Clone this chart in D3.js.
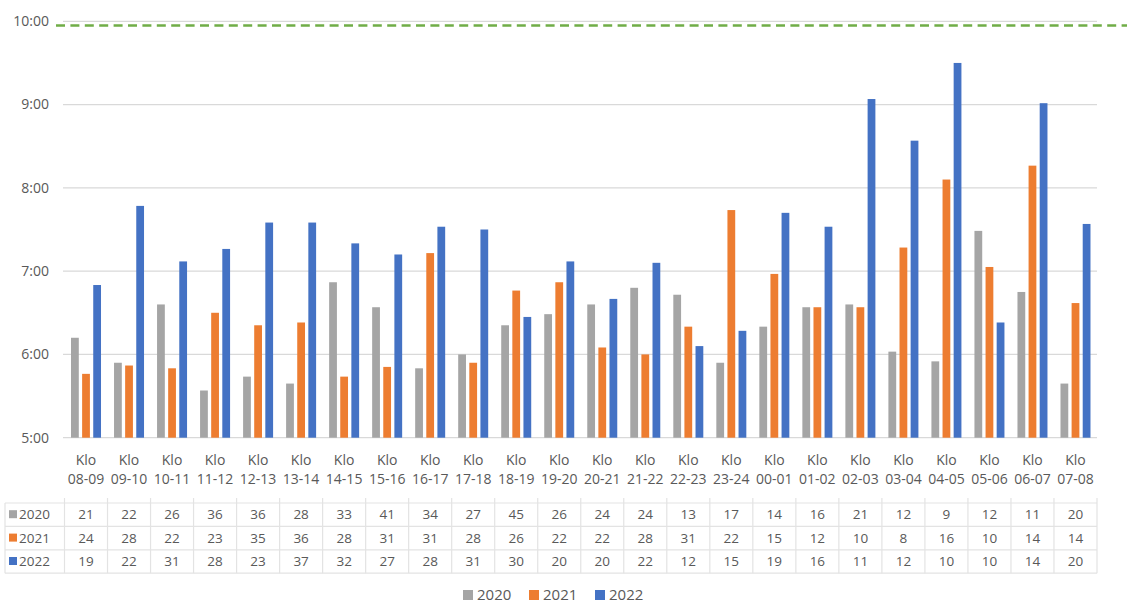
<!DOCTYPE html>
<html>
<head>
<meta charset="utf-8">
<script src="https://cdn.jsdelivr.net/npm/d3@7"></script>
<style>
	body { margin: 0; background: #fff; }
	text { font-family: "Segoe UI", "Open Sans", "Noto Sans", sans-serif; fill: #595959; }
</style>
</head>
<body>
<div id="chart"></div>
<script>
let categories	= ["08-09", "09-10", "10-11", "11-12", "12-13", "13-14", "14-15", "15-16", "16-17", "17-18", "18-19", "19-20",
	"20-21", "21-22", "22-23", "23-24", "00-01", "01-02", "02-03", "03-04", "04-05", "05-06", "06-07", "07-08"];
let years		= ["2020", "2021", "2022"];
let colors		= ["#a5a5a5", "#ed7d31", "#4472c4"];

// average time per hour slot (h:mm)
let times2020	= ["6:12", "5:54", "6:36", "5:34", "5:44", "5:39", "6:52", "6:34", "5:50", "6:00", "6:21", "6:29",
	"6:36", "6:48", "6:43", "5:54", "6:20", "6:34", "6:36", "6:02", "5:55", "7:29", "6:45", "5:39"];
let times2021	= ["5:46", "5:52", "5:50", "6:30", "6:21", "6:23", "5:44", "5:51", "7:13", "5:54", "6:46", "6:52",
	"6:05", "6:00", "6:20", "7:44", "6:58", "6:34", "6:34", "7:17", "8:06", "7:03", "8:16", "6:37"];
let times2022	= ["6:50", "7:47", "7:07", "7:16", "7:35", "7:35", "7:20", "7:12", "7:32", "7:30", "6:27", "7:07",
	"6:40", "7:06", "6:06", "6:17", "7:42", "7:32", "9:04", "8:34", "9:30", "6:23", "9:01", "7:34"];

// counts shown in data table
let counts2020	= [21, 22, 26, 36, 36, 28, 33, 41, 34, 27, 45, 26, 24, 24, 13, 17, 14, 16, 21, 12, 9, 12, 11, 20];
let counts2021	= [24, 28, 22, 23, 35, 36, 28, 31, 31, 28, 26, 22, 22, 28, 31, 22, 15, 12, 10, 8, 16, 10, 14, 14];
let counts2022	= [19, 22, 31, 28, 23, 37, 32, 27, 28, 31, 30, 20, 20, 22, 12, 15, 19, 16, 11, 12, 10, 10, 14, 20];

let yTicks		= ["5:00", "6:00", "7:00", "8:00", "9:00", "10:00"];
let targetTime	= "9:57";

let toMin	= (s) => { let p = s.split(":"); return (+p[0]) * 60 + (+p[1]); };
let fmt		= (m) => Math.floor(m / 60) + ":" + d3.format("02d")(m % 60);

let times	= [times2020, times2021, times2022];
let counts	= [counts2020, counts2021, counts2022];

let width	= 1127;
let height	= 603;

let svg = d3.select("#chart").append("svg")
	.attr("width", width)
	.attr("height", height);

let x0 = d3.scaleBand()
	.domain(categories)
	.range([64.5, 1097]);

let x1 = d3.scaleBand()
	.domain(years)
	.range([0, 30])
	.paddingInner(0.3);

let y = d3.scaleLinear()
	.domain([toMin(yTicks[0]), toMin(yTicks[yTicks.length - 1])])
	.range([437.7, 21.3]);

// gridlines
svg.append("g").selectAll("line")
	.data(yTicks)
	.enter().append("line")
	.attr("x1", 63)
	.attr("x2", 1097)
	.attr("y1", (d) => y(toMin(d)))
	.attr("y2", (d) => y(toMin(d)))
	.attr("stroke", "#d9d9d9")
	.attr("stroke-width", 1.3);

// y axis labels
svg.append("g").selectAll("text")
	.data(yTicks)
	.enter().append("text")
	.attr("x", 49)
	.attr("y", (d) => y(toMin(d)))
	.attr("dy", "0.35em")
	.attr("text-anchor", "end")
	.style("font-size", "14px")
	.text((d) => d);

// bars
let groups = svg.append("g").selectAll("g")
	.data(categories)
	.enter().append("g")
	.attr("transform", (d) => "translate(" + (x0(d) + (x0.bandwidth() - 30) / 2) + ",0)");

groups.selectAll("rect")
	.data((d, i) => years.map((yr, k) => ({ year: yr, k: k, v: toMin(times[k][i]) })))
	.enter().append("rect")
	.attr("x", (o) => x1(o.year))
	.attr("width", x1.bandwidth())
	.attr("y", (o) => y(o.v))
	.attr("height", (o) => y(toMin(yTicks[0])) - y(o.v))
	.attr("fill", (o) => colors[o.k]);

// target line
svg.append("line")
	.attr("x1", 56)
	.attr("x2", 1127)
	.attr("y1", y(toMin(targetTime)))
	.attr("y2", y(toMin(targetTime)))
	.attr("stroke", "#70ad47")
	.attr("stroke-width", 2.5)
	.attr("stroke-dasharray", "9,5.4");

// category labels
let catLabels = svg.append("g").selectAll("text")
	.data(categories)
	.enter().append("text")
	.attr("x", (d) => x0(d) + x0.bandwidth() / 2)
	.attr("text-anchor", "middle")
	.style("font-size", "14px");

catLabels.append("tspan")
	.attr("x", (d) => x0(d) + x0.bandwidth() / 2)
	.attr("y", 465)
	.text("Klo");
catLabels.append("tspan")
	.attr("x", (d) => x0(d) + x0.bandwidth() / 2)
	.attr("y", 484)
	.text((d) => d);

// data table
let tTop	= 503;
let rowH	= 23.4;
let tLeft	= 5;
let table	= svg.append("g");

d3.range(4).forEach((r) => {
	table.append("line")
		.attr("x1", tLeft).attr("x2", 1097)
		.attr("y1", tTop + r * rowH).attr("y2", tTop + r * rowH)
		.attr("stroke", "#e3e3e3").attr("stroke-width", 1.2);
});

let colEdges = [tLeft].concat(categories.map((d) => x0(d)), [1097]);
colEdges.forEach((cx, i) => {
	table.append("line")
		.attr("x1", cx).attr("x2", cx)
		.attr("y1", i === 0 ? tTop : tTop - 5)
		.attr("y2", tTop + 3 * rowH)
		.attr("stroke", "#e3e3e3").attr("stroke-width", 1.2);
});

years.forEach((yr, k) => {
	let cy = tTop + k * rowH + rowH / 2;
	table.append("rect")
		.attr("x", 9).attr("y", cy - 4.5)
		.attr("width", 8).attr("height", 8)
		.attr("fill", colors[k]);
	table.append("text")
		.attr("x", 19).attr("y", cy)
		.attr("dy", "0.35em")
		.style("font-size", "13.5px")
		.text(yr);
	table.append("g").selectAll("text")
		.data(counts[k])
		.enter().append("text")
		.attr("x", (d, i) => x0(categories[i]) + x0.bandwidth() / 2)
		.attr("y", cy)
		.attr("dy", "0.35em")
		.attr("text-anchor", "middle")
		.style("font-size", "13.5px")
		.text((d) => d);
});

// legend
let legend = svg.append("g").selectAll("g")
	.data(years)
	.enter().append("g")
	.attr("transform", (d, i) => "translate(" + (463 + i * 66) + ",595)");

legend.append("rect")
	.attr("x", 0).attr("y", -5)
	.attr("width", 10).attr("height", 10)
	.attr("fill", (d, i) => colors[i]);
legend.append("text")
	.attr("x", 14)
	.attr("dy", "0.35em")
	.style("font-size", "15px")
	.text((d) => d);
</script>
</body>
</html>
